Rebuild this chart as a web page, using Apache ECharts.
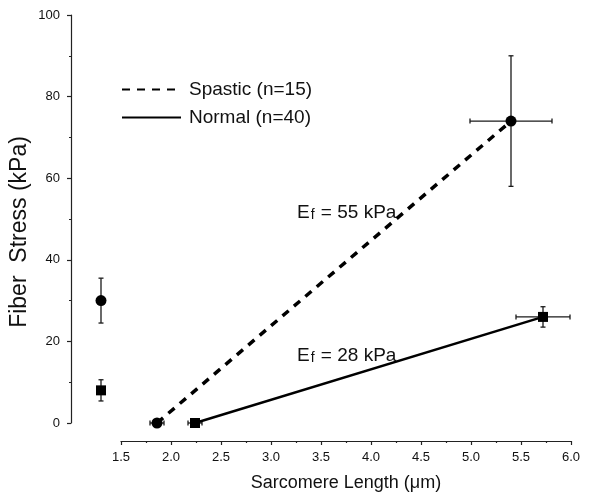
<!DOCTYPE html>
<html>
<head>
<meta charset="utf-8">
<script src="https://cdn.jsdelivr.net/npm/echarts@6/dist/echarts.min.js"></script>
<style>
  html, body { margin: 0; padding: 0; background: #fff; }
  #chart { width: 600px; height: 496px; }
</style>
</head>
<body>
<div id="chart"></div>
<script>
// Fiber stress (kPa) against sarcomere length (µm), mean ± SD
const spasticLength   = [1.86, 5.40];
const spasticStress   = [0, 74];
const spasticLengthSD = [0.07, 0.41];
const spasticStressSD = [0, 16];

const normalLength   = [2.24, 5.72];
const normalStress   = [0, 26];
const normalLengthSD = [0.07, 0.27];
const normalStressSD = [0, 2.5];

// Stress values shown beside the stress axis (no sarcomere length)
const sideLength        = 1.3;
const spasticSideStress = [30];
const spasticSideSD     = [5.5];
const normalSideStress  = [8];
const normalSideSD      = [2.6];

const lengthTicks = [1.5, 2.0, 2.5, 3.0, 3.5, 4.0, 4.5, 5.0, 5.5, 6.0];
const stressTicks = [0, 20, 40, 60, 80, 100];

const seriesNames = ['Spastic (n=15)', 'Normal (n=40)'];
const modulusLabels = ['55 kPa', '28 kPa'];

const FONT = '"Liberation Sans", Arial, Helvetica, sans-serif';
const INK = '#111';

function rows(xs, ys, dxs, dys) {
  return xs.map((x, i) => [x, ys[i], dxs[i], dys[i]]);
}

const spasticRows = rows(spasticLength, spasticStress, spasticLengthSD, spasticStressSD)
  .concat(rows([sideLength], spasticSideStress, [0], spasticSideSD));
const normalRows = rows(normalLength, normalStress, normalLengthSD, normalStressSD)
  .concat(rows([sideLength], normalSideStress, [0], normalSideSD));

// Draws horizontal and vertical SD whiskers with caps
function errorBars(params, api) {
  const x = api.value(0), y = api.value(1), dx = api.value(2), dy = api.value(3);
  const style = { stroke: '#1a1a1a', lineWidth: 1.3 };
  const cap = 2.5;
  const kids = [];
  const seg = (x1, y1, x2, y2) => kids.push({ type: 'line', shape: { x1, y1, x2, y2 }, style });
  if (dx > 0) {
    const a = api.coord([x - dx, y]), b = api.coord([x + dx, y]);
    seg(a[0], a[1], b[0], b[1]);
    seg(a[0], a[1] - cap, a[0], a[1] + cap);
    seg(b[0], b[1] - cap, b[0], b[1] + cap);
  }
  if (dy > 0) {
    const a = api.coord([x, y - dy]), b = api.coord([x, y + dy]);
    seg(a[0], a[1], b[0], b[1]);
    seg(a[0] - cap, a[1], a[0] + cap, a[1]);
    seg(b[0] - cap, b[1], b[0] + cap, b[1]);
  }
  return { type: 'group', children: kids };
}

function modulusText(value, left, top) {
  return {
    type: 'text', left, top,
    style: {
      text: '{e|E}{s|f}{e| = ' + value + '}',
      fill: INK,
      rich: {
        e: { fontSize: 19, lineHeight: 19, verticalAlign: 'top', fontFamily: FONT, fill: INK },
        s: { fontSize: 14, lineHeight: 14, verticalAlign: 'bottom', padding: [8, 1, 0, 1], fontFamily: FONT, fill: INK }
      }
    }
  };
}

const chart = echarts.init(document.getElementById('chart'), null, { renderer: 'canvas' });

const option = {
  backgroundColor: '#fff',
  animation: false,
  textStyle: { fontFamily: FONT },
  grid: [
    // plotting area
    { left: 71, right: 29, top: 15, bottom: 73, outerBoundsMode: 'none', containLabel: false },
    // carries the length axis
    { left: 121, right: 29, top: 420, bottom: 55, outerBoundsMode: 'none', containLabel: false }
  ],
  xAxis: [
    { gridIndex: 0, type: 'value', min: 1.0, max: lengthTicks[lengthTicks.length - 1], show: false },
    {
      gridIndex: 1, type: 'value',
      min: lengthTicks[0], max: lengthTicks[lengthTicks.length - 1],
      interval: lengthTicks[1] - lengthTicks[0],
      name: 'Sarcomere Length (\u03bcm)', nameLocation: 'middle', nameGap: 33,
      nameMoveOverlap: false,
      nameTextStyle: { fontSize: 18, color: INK, fontFamily: FONT },
      axisLine: { show: true, lineStyle: { color: '#222', width: 1.2 } },
      axisTick: { show: true, length: 4, lineStyle: { color: '#222', width: 1.2 } },
      minorTick: { show: true, splitNumber: 2, length: 2, lineStyle: { color: '#222', width: 1.2 } },
      axisLabel: { fontSize: 13, color: INK, margin: 10, formatter: v => v.toFixed(1) },
      splitLine: { show: false }
    }
  ],
  yAxis: [
    {
      gridIndex: 0, type: 'value',
      min: stressTicks[0], max: stressTicks[stressTicks.length - 1],
      interval: stressTicks[1] - stressTicks[0],
      name: 'Fiber  Stress (kPa)', nameLocation: 'middle', nameGap: 40,
      nameMoveOverlap: false,
      nameTextStyle: { fontSize: 23, color: INK, fontFamily: FONT, padding: [0, 26, 0, 0] },
      axisLine: { show: true, lineStyle: { color: '#222', width: 1.2 } },
      axisTick: { show: true, length: 4, lineStyle: { color: '#222', width: 1.2 } },
      minorTick: { show: true, splitNumber: 2, length: 2, lineStyle: { color: '#222', width: 1.2 } },
      axisLabel: { fontSize: 13, color: INK, margin: 11 },
      splitLine: { show: false }
    },
    { gridIndex: 1, type: 'value', show: false }
  ],
  legend: {
    data: seriesNames,
    orient: 'vertical',
    left: 116, top: 75,
    itemWidth: 59, itemHeight: 14, itemGap: 9,
    itemStyle: { opacity: 0 },
    textStyle: { fontSize: 19, color: INK, fontFamily: FONT, padding: [0, 0, 0, 3] },
    selectedMode: false
  },
  series: [
    {
      type: 'custom', name: 'spasticSD', renderItem: errorBars, clip: false,
      encode: { x: 0, y: 1 }, data: spasticRows, z: 2, silent: true
    },
    {
      type: 'custom', name: 'normalSD', renderItem: errorBars, clip: false,
      encode: { x: 0, y: 1 }, data: normalRows, z: 2, silent: true
    },
    {
      type: 'line', name: seriesNames[0], symbol: 'none',
      data: spasticLength.map((x, i) => [x, spasticStress[i]]),
      lineStyle: { color: '#000', width: 3.5, type: [8, 7] },
      itemStyle: { color: '#000' }, z: 3, silent: true
    },
    {
      type: 'line', name: seriesNames[1], symbol: 'none',
      data: normalLength.map((x, i) => [x, normalStress[i]]),
      lineStyle: { color: '#000', width: 2.5, type: 'solid' },
      itemStyle: { color: '#000' }, z: 3, silent: true
    },
    {
      type: 'scatter', name: 'spasticPoints', symbol: 'circle', symbolSize: 11,
      data: spasticRows.map(r => [r[0], r[1]]),
      itemStyle: { color: '#000', opacity: 1 }, z: 4, silent: true, clip: false
    },
    {
      type: 'scatter', name: 'normalPoints', symbol: 'rect', symbolSize: 10,
      data: normalRows.map(r => [r[0], r[1]]),
      itemStyle: { color: '#000', opacity: 1 }, z: 4, silent: true, clip: false
    }
  ],
  graphic: [
    modulusText(modulusLabels[0], 297, 200),
    modulusText(modulusLabels[1], 297, 343)
  ]
};

chart.setOption(option);
</script>
</body>
</html>
